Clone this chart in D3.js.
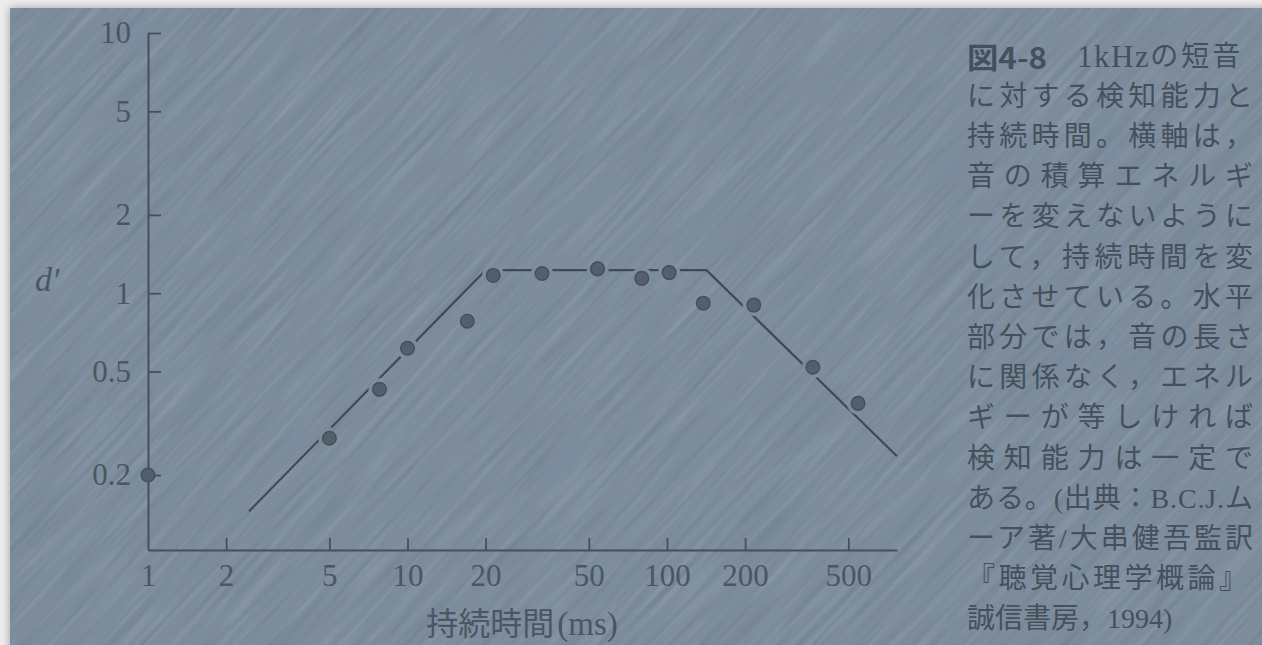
<!DOCTYPE html>
<html lang="ja">
<head>
<meta charset="utf-8">
<title>1kHzの短音に対する検知能力と持続時間</title>
<script src="https://cdn.jsdelivr.net/npm/d3@7"></script>
<style>
  html, body { margin: 0; padding: 0; background: #ececec; overflow: hidden; }
  svg { display: block; }
</style>
</head>
<body>
<svg id="chart" width="1262" height="645"></svg>
<script>
// Tick values on the two logarithmic axes
const xTicks = [1, 2, 5, 10, 20, 50, 100, 200, 500];
const yTicks = [0.2, 0.5, 1, 2, 5, 10];
const xDomain = [1, 770];
const yDomain = [0.103, 10];

// Measured detectability d' versus tone duration (ms)
const durationMs = [1, 5, 7.8, 10, 17, 21.4, 33, 54, 80, 102, 138, 216, 365, 545];
const dPrime     = [0.2, 0.277, 0.427, 0.614, 0.78, 1.17, 1.19, 1.24, 1.14, 1.2, 0.915, 0.9, 0.519, 0.377];

// Broken-line fit: rising, flat plateau, falling
const fitMs = [2.45, 20, 142, 770];
const fitD  = [0.145, 1.226, 1.226, 0.236];

// Caption lines
const captionHead = ["図4-8", "1kHz", "の短音"];
const captionLines = [
  "に対する検知能力と",
  "持続時間。横軸は，",
  "音の積算エネルギ",
  "ーを変えないように",
  "して，持続時間を変",
  "化させている。水平",
  "部分では，音の長さ",
  "に関係なく，エネル",
  "ギーが等しければ",
  "検知能力は一定で",
  "ある。(出典：B.C.J.ム",
  "ーア著/大串健吾監訳",
  "『聴覚心理学概論』",
  "誠信書房，1994)"
];
const xTitle = ["持続時間", "(ms)"];
const yTitle = "d′";

const ink = "#44505c";
const bg = "#7c8c9c";
const serif = "'Liberation Serif', 'DejaVu Serif', serif";
const mixed = "'Liberation Serif', 'Noto Sans CJK JP', serif";
const cjk = "'Noto Sans CJK JP', 'Noto Sans CJK SC', sans-serif";

const svg = d3.select("#chart");
const defs = svg.append("defs");

// Drop shadow under the panel
const shadow = defs.append("filter").attr("id", "panelShadow")
  .attr("x", "-5%").attr("y", "-5%").attr("width", "110%").attr("height", "110%");
shadow.append("feDropShadow").attr("dx", 0).attr("dy", 0)
  .attr("stdDeviation", 4).attr("flood-color", "#000").attr("flood-opacity", 0.35);

// Streaky paper texture: stretched noise, tinted light and dark
const TEX = 1800;
function streakFilter(id, rgb, a, b, seed) {
  const f = defs.append("filter").attr("id", id)
    .attr("filterUnits", "userSpaceOnUse")
    .attr("x", 0).attr("y", 0).attr("width", TEX).attr("height", TEX);
  f.append("feTurbulence").attr("type", "fractalNoise")
    .attr("baseFrequency", "0.01 0.17").attr("numOctaves", 2).attr("seed", seed);
  f.append("feColorMatrix").attr("type", "matrix")
    .attr("values", `0 0 0 0 ${rgb} 0 0 0 0 ${rgb} 0 0 0 0 ${rgb} ${a} 0 0 0 ${b}`);
}
streakFilter("streakLight", 1, 1.8, -0.8, 3);
streakFilter("streakDark", 0, -1.8, 0.95, 7);

svg.append("rect")
  .attr("x", 10).attr("y", 8).attr("width", 1300).attr("height", 700)
  .attr("fill", bg).attr("filter", "url(#panelShadow)");

const texClip = defs.append("clipPath").attr("id", "panelClip");
texClip.append("rect").attr("x", 10).attr("y", 8).attr("width", 1260).attr("height", 640);

const tex = svg.append("g").attr("clip-path", "url(#panelClip)");
const texInner = tex.append("g")
  .attr("transform", `translate(631,330) rotate(-47) translate(${-TEX / 2},${-TEX / 2})`);
texInner.append("rect").attr("width", TEX).attr("height", TEX)
  .attr("filter", "url(#streakLight)").attr("opacity", 0.12);
texInner.append("rect").attr("width", TEX).attr("height", TEX)
  .attr("filter", "url(#streakDark)").attr("opacity", 0.08);

// Scales
const x = d3.scaleLog().domain(xDomain).range([148, 897]);
const y = d3.scaleLog().domain(yDomain).range([550, 33]);

const plot = svg.append("g");

// Y axis (ticks pointing inward)
const yAxis = plot.append("g").attr("transform", `translate(${x(xDomain[0])},0)`)
  .call(d3.axisLeft(y).tickValues(yTicks).tickSize(-13).tickSizeOuter(0)
    .tickPadding(17).tickFormat(d => String(d)));

// X axis
const xAxis = plot.append("g").attr("transform", `translate(0,${y(yDomain[0])})`)
  .call(d3.axisBottom(x).tickValues(xTicks).tickSize(-12).tickSizeOuter(0)
    .tickPadding(14).tickFormat(d => String(d)));

[yAxis, xAxis].forEach(ax => {
  ax.select(".domain").attr("stroke", ink).attr("stroke-width", 2);
  ax.selectAll(".tick line").attr("stroke", ink).attr("stroke-width", 1.8);
  ax.selectAll(".tick text").attr("fill", "#4a5662")
    .attr("font-family", serif).attr("font-size", 31);
});
xAxis.selectAll(".tick").filter(d => d === xDomain[0]).select("line").remove();

// Fit line, interrupted around nearby data points
const mask = defs.append("mask").attr("id", "pointGaps").attr("maskUnits", "userSpaceOnUse")
  .attr("x", 0).attr("y", 0).attr("width", 1262).attr("height", 645);
mask.append("rect").attr("x", 0).attr("y", 0).attr("width", 1262).attr("height", 645).attr("fill", "#fff");
mask.selectAll("circle").data(durationMs).join("circle")
  .attr("cx", d => x(d)).attr("cy", (d, i) => y(dPrime[i])).attr("r", 11).attr("fill", "#000");

const fitPts = fitMs.map((m, i) => [x(m), y(fitD[i])]);
plot.append("path")
  .attr("d", d3.line()(fitPts))
  .attr("fill", "none").attr("stroke", "#3f4b57").attr("stroke-width", 2.2)
  .attr("stroke-linejoin", "miter")
  .attr("mask", "url(#pointGaps)");

// Data points
plot.selectAll("circle.pt").data(durationMs).join("circle")
  .attr("class", "pt")
  .attr("cx", d => x(d)).attr("cy", (d, i) => y(dPrime[i]))
  .attr("r", 6.8)
  .attr("fill", "#545f6b").attr("stroke", "#44505c").attr("stroke-width", 1.5);

// Axis titles
const xt = plot.append("text")
  .attr("x", 522).attr("y", 635).attr("text-anchor", "middle")
  .attr("fill", "#4a5662").attr("font-size", 32);
xt.append("tspan").attr("font-family", cjk).text(xTitle[0]);
xt.append("tspan").attr("font-family", serif).attr("font-size", 33).attr("dx", 3).text(xTitle[1]);

plot.append("text")
  .attr("x", 35).attr("y", 291)
  .attr("fill", "#4a5662").attr("font-family", serif).attr("font-style", "italic")
  .attr("font-size", 34).text(yTitle);

// Caption block
const cap = svg.append("g").attr("fill", ink).attr("font-size", 28);
const capLeft = 967, capWidth = 286, lineStep = 40.2, firstLine = 56;

cap.append("text")
  .attr("x", capLeft).attr("y", firstLine).attr("dominant-baseline", "central")
  .attr("font-family", cjk).attr("font-weight", 700).attr("font-size", 29)
  .attr("textLength", 80).attr("lengthAdjust", "spacingAndGlyphs")
  .text(captionHead[0]);
const head = cap.append("text")
  .attr("x", 1077).attr("y", firstLine).attr("dominant-baseline", "central")
  .attr("font-family", mixed);
head.append("tspan").attr("font-size", 31).attr("letter-spacing", 1.5).text(captionHead[1]);
head.append("tspan").attr("letter-spacing", 3).text(captionHead[2]);

cap.selectAll("text.line").data(captionLines).join("text")
  .attr("class", "line")
  .attr("x", capLeft)
  .attr("y", (d, i) => firstLine + (i + 1) * lineStep)
  .attr("dominant-baseline", "central")
  .attr("font-family", mixed)
  .each(function (d, i) {
    if (i < captionLines.length - 1) {
      d3.select(this).attr("textLength", i === captionLines.length - 2 ? 280 : capWidth)
        .attr("lengthAdjust", "spacing");
    }
  })
  .text(d => d);
</script>
</body>
</html>
